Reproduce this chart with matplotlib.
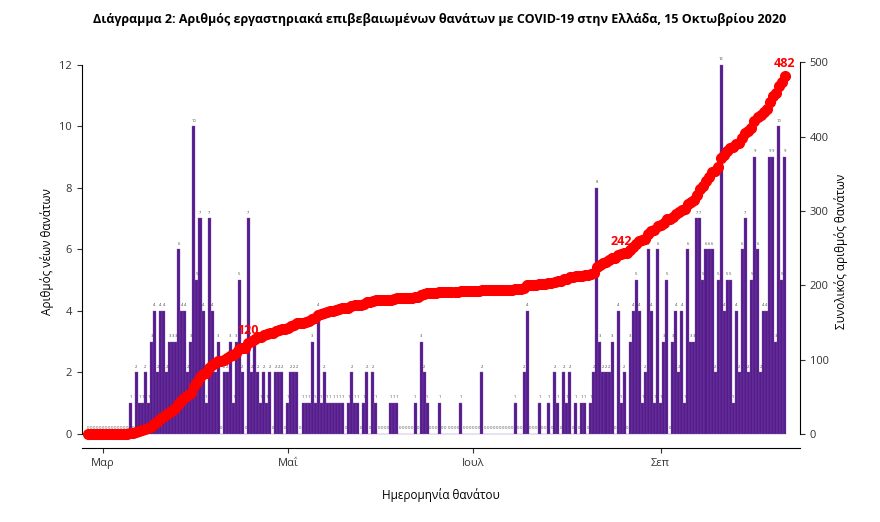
import numpy as np
import pandas as pd
import matplotlib.pyplot as plt

# daily deaths
lead_zeros = [0] * 14
mar_apr = [1, 0, 2, 1, 1, 2, 1, 3, 4, 2, 4, 4, 2, 3, 3, 3, 6, 4, 4, 2, 3, 10, 5, 7, 4, 1, 7, 4, 2, 3]
apr_may = [0, 2, 2, 3, 1, 3, 5, 2, 0, 7, 2, 3, 2, 1, 2, 1, 2, 0, 2, 2, 2, 0, 1, 2, 2, 2, 0, 1, 1, 1,
           3, 1, 4, 1, 2, 1, 1, 1]
may_aug = [1, 1, 1, 0, 1, 2, 1, 1, 0, 1, 2, 0, 2, 1, 0, 0, 0, 0, 1, 1, 1, 0, 0, 0, 0, 0, 1, 0, 3, 2,
           1, 0, 0, 0, 1, 0, 0, 0, 0, 0, 0, 1, 0, 0, 0, 0, 0, 0, 2, 0, 0, 0, 0, 0, 0, 0, 0, 0, 0, 1,
           0, 0, 2, 4, 0, 0, 0, 1, 0, 0, 1, 0, 2, 1, 0, 2, 1, 2, 0, 1, 0, 1, 1, 0, 1, 2]
aug_oct = [8, 3, 2, 2, 2, 3, 0, 4, 1, 2, 0, 3, 4, 5, 4, 1, 2, 6, 4, 1, 6, 1, 3, 5, 0, 3, 4, 2, 4, 1,
           6, 3, 3, 7, 7, 5, 6, 6, 6, 2, 5, 12, 4, 5, 5, 1, 4, 2, 6, 7, 2, 5, 9, 6, 2, 4, 4, 9, 9, 3,
           10, 5, 9]
daily = np.array(lead_zeros + mar_apr + apr_may + may_aug + aug_oct)
dates = pd.date_range("2020-02-25", periods=len(daily), freq="D")
cum = np.cumsum(daily)
label_points = [120, 242, int(cum[-1])]
tick_dates = pd.to_datetime(["2020-03-01", "2020-05-01", "2020-07-01", "2020-09-01"])
tick_names = ["Μαρ", "Μαΐ", "Ιουλ", "Σεπ"]

plt.rcParams["font.family"] = "Open Sans"
fig = plt.figure(figsize=(8.8, 5.22), dpi=100)
ax = fig.add_axes([0.093, 0.142, 0.816, 0.753])
ax2 = ax.twinx()

ax.bar(dates, daily, width=1.0, color="#561b8d", edgecolor="#7b55a6", linewidth=0.25)
for d, v in zip(dates, daily):
    ax.text(d, v + 0.12, str(v), ha="center", va="bottom", fontsize=3, color="#444444")

ax2.plot(dates, cum, color="red", marker="o", markersize=7, linewidth=3)
ax.set_zorder(1)
ax2.set_zorder(2)
ax2.patch.set_visible(False)
for lp in label_points:
    i = int(np.argmax(cum >= lp))
    ax2.text(dates[i], cum[i] + 8, str(lp), color="red", fontsize=9, fontweight="bold",
             ha="center", va="bottom")

ax.set_xlim(pd.Timestamp("2020-02-23"), pd.Timestamp("2020-10-17"))
ax.set_ylim(-0.455, 12.32)
ax2.set_ylim(-18.5, 510)
ax.set_yticks(range(0, 13, 2))
ax2.set_yticks(range(0, 501, 100))
ax.set_xticks(tick_dates)
ax.set_xticklabels(tick_names)
for a in (ax, ax2):
    a.tick_params(labelsize=8, colors="#333333")
    a.spines["top"].set_visible(False)
ax.spines["left"].set_bounds(0, 12)
ax2.spines["right"].set_bounds(0, 500)
ax2.spines["left"].set_visible(False)
ax.spines["right"].set_visible(False)
ax2.spines["bottom"].set_visible(False)

ax.set_ylabel("Αριθμός νέων θανάτων", fontsize=8.5)
ax2.set_ylabel("Συνολικός αριθμός θανάτων", fontsize=8.5)
ax.set_xlabel("Ημερομηνία θανάτου", fontsize=8.5, labelpad=14)
fig.suptitle("Διάγραμμα 2: Αριθμός εργαστηριακά επιβεβαιωμένων θανάτων με COVID-19 στην Ελλάδα, 15 Οκτωβρίου 2020",
             fontsize=9, fontweight="bold", y=0.975)

fig.savefig("out.png")
